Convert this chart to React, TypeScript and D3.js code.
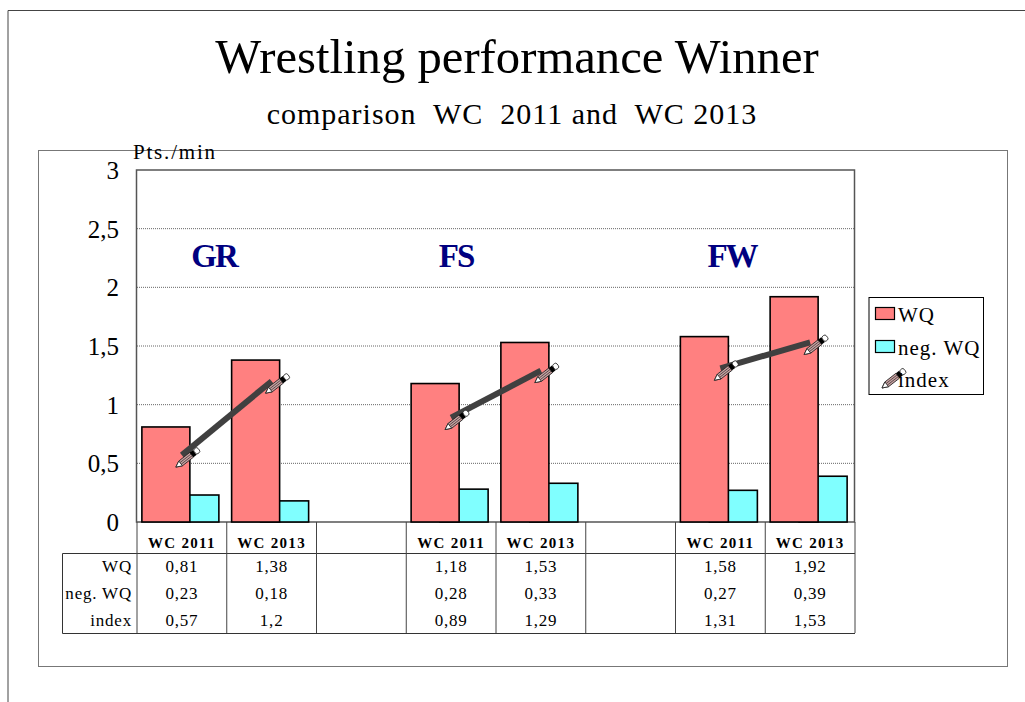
import React from "react";
import * as d3 from "d3";

const slots = ["a1", "a2", "gap1", "b1", "b2", "gap2", "c1", "c2"];
const categories = ["a1", "a2", "b1", "b2", "c1", "c2"];
const catLabels = ["WC 2011", "WC 2013", "WC 2011", "WC 2013", "WC 2011", "WC 2013"];
const wq = [0.81, 1.38, 1.18, 1.53, 1.58, 1.92];
const negWq = [0.23, 0.18, 0.28, 0.33, 0.27, 0.39];
const index = [0.57, 1.2, 0.89, 1.29, 1.31, 1.53];
const wqText = ["0,81", "1,38", "1,18", "1,53", "1,58", "1,92"];
const negText = ["0,23", "0,18", "0,28", "0,33", "0,27", "0,39"];
const indexText = ["0,57", "1,2", "0,89", "1,29", "1,31", "1,53"];
const yTicks = [0, 0.5, 1, 1.5, 2, 2.5, 3];
const yTickLabels = ["0", "0,5", "1", "1,5", "2", "2,5", "3"];
const groups = [["GR", 214], ["FS", 456], ["FW", 732]] as const;
const pairs = [[0, 1], [2, 3], [4, 5]];

const FONT = "'Liberation Serif', serif";
const x = d3.scaleBand().domain(slots).range([137, 855]);
const y = d3.scaleLinear().domain([0, 3]).range([522, 170]);
const line = d3.line<number>().x((i) => x(categories[i])! + x.bandwidth() / 2).y((i) => y(index[i]));

function Pencil({ px, py }: { px: number; py: number }) {
  return (
    <g transform={`translate(${px - 6},${py + 12}) rotate(-38)`}>
      <path d="M0,0 L6,-3 L20,-3 L20,3 L6,3 Z" fill="#c8a0a0" stroke="#222" strokeWidth={0.8} />
      <path d="M6,-1 H20 M6,1 H20" stroke="#333" strokeWidth={0.7} />
      <path d="M0,0 L6,-3 L6,3 Z" fill="#fff" stroke="#222" strokeWidth={0.8} />
      <rect x={20} y={-3} width={4} height={6} fill="#000" />
      <rect x={24} y={-3} width={5} height={6} rx={2} fill="#fff" stroke="#222" strokeWidth={0.8} />
    </g>
  );
}

export default function App() {
  const bw = 48;
  const rows: [string, string[], number][] = [
    ["WQ", wqText, 572],
    ["neg. WQ", negText, 599],
    ["index", indexText, 626],
  ];
  return (
    <svg width={1025} height={702} style={{ position: "absolute", left: 0, top: 0 }} fontFamily={FONT}>
      <rect width={1025} height={702} fill="#fff" />
      <path d="M8,702 V10.5 H1025" fill="none" stroke="#444" strokeWidth={1} />
      <text x={517} y={73} fontSize={48.7} textAnchor="middle" fill="#000">Wrestling performance Winner</text>
      <text x={512} y={124} fontSize={30} textAnchor="middle" fill="#000" xmlSpace="preserve" letterSpacing={1}>comparison  WC  2011 and  WC 2013</text>
      <rect x={38.5} y={150.5} width={969} height={516} fill="#fff" stroke="#777" strokeWidth={1} />

      {yTicks.filter((t) => t > 0 && t < 3).map((t) => (
        <line key={t} x1={137} x2={855} y1={y(t)} y2={y(t)} stroke="#666" strokeWidth={1} strokeDasharray="1 1" />
      ))}
      <rect x={136.5} y={170} width={718} height={352} fill="none" stroke="#555" strokeWidth={1.5} />

      {categories.map((c, i) => {
        const cx = x(c)! + x.bandwidth() / 2;
        return (
          <g key={c}>
            <rect x={cx - 11} y={y(negWq[i])} width={bw} height={y(0) - y(negWq[i])} fill="#80ffff" stroke="#000" strokeWidth={1.6} />
            <rect x={cx - 40} y={y(wq[i])} width={bw} height={y(0) - y(wq[i])} fill="#ff8080" stroke="#000" strokeWidth={1.6} />
          </g>
        );
      })}

      {pairs.map((p) => (
        <path key={p[0]} d={line(p)!} fill="none" stroke="#404040" strokeWidth={6} />
      ))}
      {categories.map((c, i) => (
        <Pencil key={c} px={x(c)! + x.bandwidth() / 2} py={y(index[i])} />
      ))}

      {groups.map(([g, gx]) => (
        <text key={g} x={gx} y={267} fontSize={33} fontWeight="bold" fill="#000080" textAnchor="middle" letterSpacing={-2}>{g}</text>
      ))}

      {yTicks.map((t, i) => (
        <text key={t} x={119} y={y(t) + 9} fontSize={25} textAnchor="end" fill="#000">{yTickLabels[i]}</text>
      ))}
      <text x={133} y={159} fontSize={21} letterSpacing={1.8} fill="#000">Pts./min</text>

      {/* data table */}
      <path d="M62.5,553.5 H855 M62.5,633.5 H855 M62.5,553.5 V633.5" fill="none" stroke="#333" strokeWidth={1} />
      {slots.map((s) => (
        <line key={s} x1={x(s)!} x2={x(s)!} y1={522} y2={633} stroke="#444" strokeWidth={1} />
      ))}
      <line x1={855} x2={855} y1={522} y2={633} stroke="#444" strokeWidth={1} />
      {categories.map((c, i) => (
        <text key={c} x={x(c)! + x.bandwidth() / 2} y={548} fontSize={15} fontWeight="bold" textAnchor="middle" letterSpacing={1.3} fill="#000">{catLabels[i]}</text>
      ))}
      {rows.map(([name, vals, ry]) => (
        <g key={name}>
          <text x={132} y={ry} fontSize={17} textAnchor="end" letterSpacing={0.8} fill="#000">{name}</text>
          {categories.map((c, i) => (
            <text key={c} x={x(c)! + x.bandwidth() / 2} y={ry} fontSize={17} textAnchor="middle" letterSpacing={0.8} fill="#000">{vals[i]}</text>
          ))}
        </g>
      ))}

      {/* legend */}
      <rect x={869} y={297.5} width={114.5} height={97} fill="#fff" stroke="#000" strokeWidth={1} />
      <rect x={875.5} y={307.5} width={19} height={12} fill="#ff8080" stroke="#000" strokeWidth={1.2} />
      <rect x={875.5} y={340.5} width={19} height={12} fill="#80ffff" stroke="#000" strokeWidth={1.2} />
      <text x={898} y={322} fontSize={21} letterSpacing={1} fill="#000">WQ</text>
      <text x={898} y={355} fontSize={21} letterSpacing={1} fill="#000">neg. WQ</text>
      <Pencil px={888} py={376} />
      <text x={898} y={387} fontSize={21} letterSpacing={1} fill="#000">index</text>
    </svg>
  );
}
